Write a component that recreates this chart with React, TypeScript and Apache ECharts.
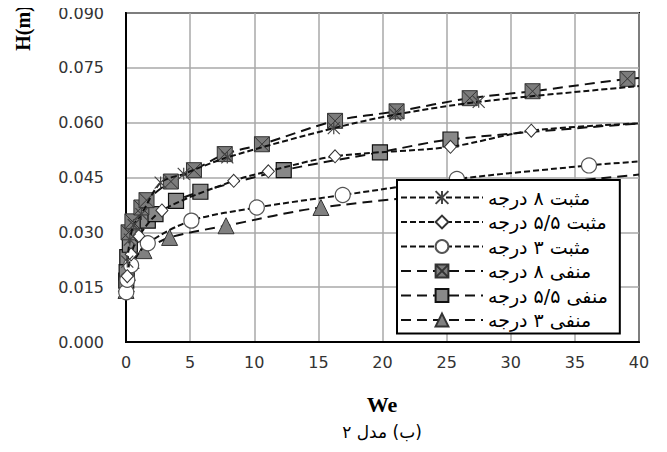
import React, { useEffect, useRef } from "react";
import * as echarts from "echarts";

// Legend / series names (Persian)
const seriesNames = [
  "مثبت ۸ درجه",
  "مثبت ۵/۵ درجه",
  "مثبت ۳ درجه",
  "منفی ۸ درجه",
  "منفی ۵/۵ درجه",
  "منفی ۳ درجه",
];
const xTitle = "We";
const yTitle = "H(m)";
// RTL embedding so the caption reads right-to-left as in the original
const caption = "\u202B\u200F(ب) مدل ۲\u202C";

// Observed points [We, H(m)]
const pos8: [number, number][] = [
  [0.1, 0.022], [0.3, 0.028], [0.6, 0.032], [1.2, 0.035], [2.7, 0.0436],
  [4.5, 0.046], [7.9, 0.0505], [16.2, 0.0585], [21.0, 0.0622], [27.5, 0.0657],
];
const pos55: [number, number][] = [
  [0.1, 0.018], [0.4, 0.024], [1.0, 0.029], [2.8, 0.036], [8.4, 0.0441],
  [11.1, 0.0467], [16.3, 0.0508], [25.3, 0.0534], [31.6, 0.0578],
];
const pos3: [number, number][] = [
  [0.02, 0.0136], [0.1, 0.017], [0.4, 0.021], [1.7, 0.027], [5.1, 0.0332],
  [10.2, 0.0368], [16.9, 0.0402], [25.8, 0.0446], [36.1, 0.0483],
];
const neg8: [number, number][] = [
  [0.2, 0.030], [0.5, 0.033], [1.2, 0.0368], [1.6, 0.0388], [3.5, 0.0439],
  [5.3, 0.047], [7.7, 0.0514], [10.6, 0.0541], [16.3, 0.0605], [21.1, 0.0631],
  [26.8, 0.0667], [31.7, 0.0686], [39.1, 0.072],
];
const neg55: [number, number][] = [
  [0.02, 0.0168], [0.05, 0.0191], [0.1, 0.0232], [0.3, 0.0266], [0.65, 0.0309],
  [1.7, 0.0332], [2.3, 0.035], [3.9, 0.0386], [5.8, 0.0411], [12.3, 0.047],
  [19.8, 0.0519], [25.3, 0.0554],
];
const neg3: [number, number][] = [
  [0.0, 0.0141], [0.02, 0.0159], [0.1, 0.019], [0.4, 0.0223], [1.4, 0.025],
  [3.4, 0.0286], [7.8, 0.0318], [15.2, 0.0368],
];

// Trend-line value read at We = 40 for each series
const trendEnd = [0.07, 0.0598, 0.0494, 0.0722, 0.0598, 0.0458];
const trendEndX = 40;

const allPoints = [pos8, pos55, pos3, neg8, neg55, neg3];

const STAR = "path://M0,0L10,10M10,0L0,10M5,0L5,10";
const XSQ = "path://M0,0L10,0L10,10L0,10ZM0,0L10,10M10,0L0,10";

const styles = [
  { symbol: STAR, size: 12, color: "transparent", border: "#444", bw: 1.2, dash: [6, 3] },
  { symbol: "diamond", size: [12, 13], color: "#fff", border: "#333", bw: 1, dash: [6, 3] },
  { symbol: "circle", size: 15, color: "#fff", border: "#555", bw: 1.2, dash: [6, 3] },
  { symbol: XSQ, size: 15, color: "#7c7c7c", border: "#333", bw: 1, dash: [10, 6] },
  { symbol: "rect", size: 15, color: "#888", border: "#111", bw: 1.2, dash: [10, 6] },
  { symbol: "triangle", size: 16, color: "#808080", border: "#333", bw: 1, dash: [10, 6] },
];

export default function App() {
  const ref = useRef<HTMLDivElement>(null);
  useEffect(() => {
    if (!ref.current) return;
    const chart = echarts.init(ref.current, undefined, { renderer: "svg" });
    const series = seriesNames.map((name, i) => {
      const s = styles[i];
      const pts = allPoints[i];
      const data: any[] = pts.map((p) => ({ value: p }));
      data.push({ value: [trendEndX, trendEnd[i]], symbol: "none" });
      return {
        name,
        type: "line",
        smooth: 0.3,
        data,
        symbol: s.symbol,
        symbolSize: s.size,
        showAllSymbol: true,
        itemStyle: { color: s.color, borderColor: s.border, borderWidth: s.bw, opacity: 1 },
        lineStyle: { color: "#111", width: 2, type: s.dash },
        z: 2 + (5 - i) * 0.1,
      };
    });
    chart.setOption({
      animation: false,
      backgroundColor: "#fff",
      grid: {
        left: 126,
        right: 28,
        top: 13,
        bottom: 110,
        show: true,
        borderColor: "#000",
        borderWidth: 2,
        backgroundColor: "transparent",
      },
      xAxis: {
        type: "value",
        min: 0,
        max: 40,
        interval: 5,
        axisLine: { show: true, lineStyle: { color: "#000", width: 2 } },
        axisTick: { show: false },
        splitLine: { show: true, lineStyle: { color: "#a8a8a8", width: 1.5 } },
        axisLabel: { fontFamily: "DejaVu Sans", fontSize: 16, color: "#333", margin: 12 },
      },
      yAxis: {
        type: "value",
        min: 0,
        max: 0.09,
        interval: 0.015,
        axisLine: { show: true, lineStyle: { color: "#000", width: 2 } },
        axisTick: { show: false },
        splitLine: { show: true, lineStyle: { color: "#a8a8a8", width: 1.5 } },
        axisLabel: {
          fontFamily: "DejaVu Sans",
          fontSize: 16,
          color: "#333",
          margin: 22,
          formatter: (v: number) => v.toFixed(3),
        },
      },
      legend: {
        orient: "vertical",
        left: 397,
        top: 180,
        data: seriesNames,
        itemWidth: 82,
        itemHeight: 16,
        itemGap: 5.5,
        padding: [8, 12, 4, 3],
        backgroundColor: "#fff",
        borderColor: "#000",
        borderWidth: 2,
        textStyle: { fontFamily: "DejaVu Sans", fontSize: 19, color: "#000", width: 140 },
      },
      graphic: [
        {
          type: "text",
          x: 23,
          y: 28,
          rotation: Math.PI / 2,
          style: {
            text: yTitle,
            font: "bold 20px 'Liberation Serif'",
            fill: "#000",
            align: "center",
            verticalAlign: "middle",
          },
        },
        {
          type: "text",
          x: 382,
          y: 404,
          style: {
            text: xTitle,
            font: "bold 22px 'Liberation Serif'",
            fill: "#000",
            align: "center",
            verticalAlign: "middle",
          },
        },
        {
          type: "text",
          x: 382,
          y: 432,
          style: {
            text: caption,
            font: "17px 'DejaVu Sans'",
            fill: "#000",
            align: "center",
            verticalAlign: "middle",
          },
        },
      ],
      series,
    });
    return () => chart.dispose();
  }, []);
  return <div ref={ref} style={{ width: 667, height: 452, margin: -8 }} />;
}
